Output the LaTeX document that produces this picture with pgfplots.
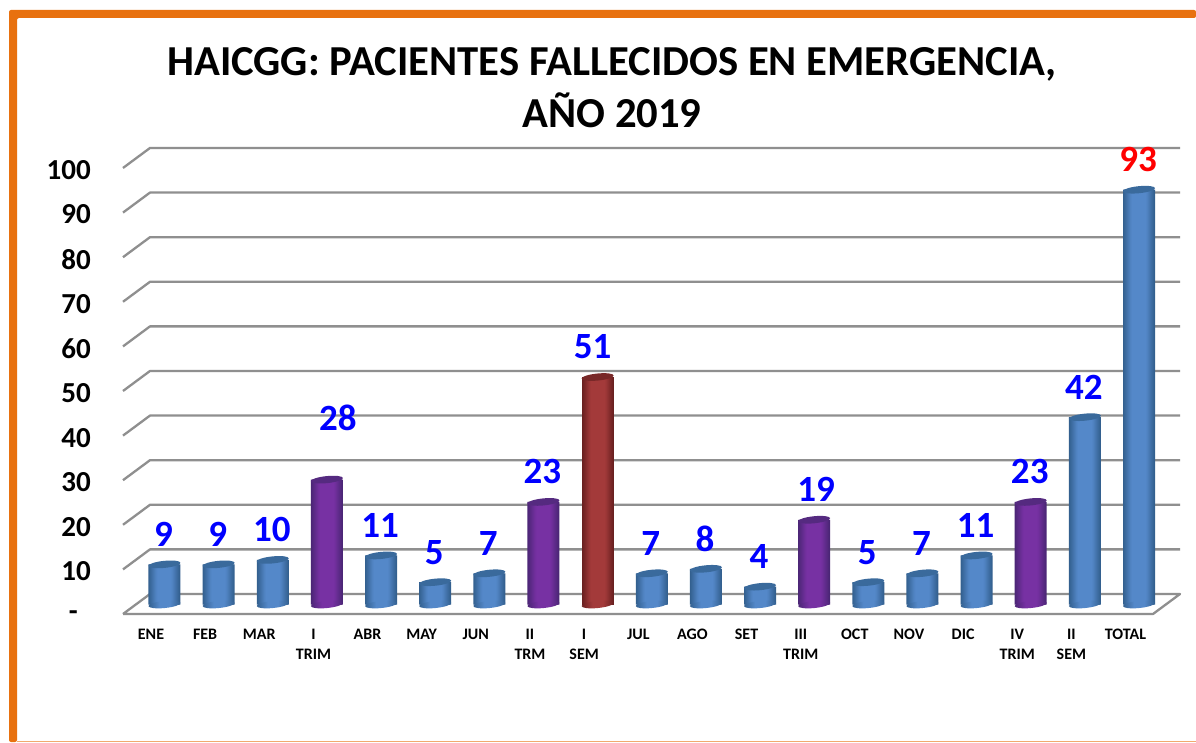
\documentclass[border=0pt]{standalone}
\usepackage{pgfplots}
\pgfplotsset{compat=1.18}
\usepackage{fontspec}
\setmainfont{Carlito}
\definecolor{frameor}{HTML}{E8710F}
\definecolor{gridg}{HTML}{8F8F8F}
\definecolor{bluee}{HTML}{33608F}
\definecolor{bluec}{HTML}{5488C9}
\definecolor{bluet}{HTML}{3A6A9C}
\definecolor{purpe}{HTML}{4B2676}
\definecolor{purpc}{HTML}{7731A3}
\definecolor{purpt}{HTML}{552A80}
\definecolor{rede}{HTML}{692020}
\definecolor{redc}{HTML}{A33A3A}
\definecolor{redt}{HTML}{782828}
\pgfdeclarehorizontalshading{blueh}{100bp}{color(0bp)=(bluee); color(25bp)=(bluee); color(42bp)=(bluec); color(58bp)=(bluec); color(75bp)=(bluee); color(100bp)=(bluee)}
\pgfdeclarehorizontalshading{purph}{100bp}{color(0bp)=(purpe); color(25bp)=(purpe); color(42bp)=(purpc); color(58bp)=(purpc); color(75bp)=(purpe); color(100bp)=(purpe)}
\pgfdeclarehorizontalshading{redh}{100bp}{color(0bp)=(rede); color(25bp)=(rede); color(42bp)=(redc); color(58bp)=(redc); color(75bp)=(rede); color(100bp)=(rede)}
\newcommand{\ellipsepath}{\pgfpathellipse{\pgfpointorigin}{\pgfpoint{16pt}{1.6pt}}{\pgfpoint{-0.4pt}{3.5pt}}}
\pgfdeclareplotmark{cap}{\ellipsepath\pgfusepathqfill}
\pgfdeclareplotmark{baseblue}{\ellipsepath\pgfshadepath{blueh}{0}\pgfusepath{discard}}
\pgfdeclareplotmark{basepurp}{\ellipsepath\pgfshadepath{purph}{0}\pgfusepath{discard}}
\pgfdeclareplotmark{basered}{\ellipsepath\pgfshadepath{redh}{0}\pgfusepath{discard}}
\pgfplotsset{
  gl/.style={gridg,line width=2.3pt,line join=round,forget plot},
  lay/.style={ybar,bar width=#1pt,bar shift=0pt,draw=none,forget plot},
  capm/.style={only marks,mark=cap,mark options={draw=none,fill=#1}},
  lab/.style={nodes near coords={\pgfmathprintnumber[assume math mode=true]{\pgfplotspointmeta}},nodes near coords style={anchor=center,yshift=30pt,xshift=-1pt,inner sep=0pt,font=\fontsize{37}{38}\selectfont\bfseries,text=blue}},
}
% one bar series: layers of narrowing ybars, from the edge colour to the centre colour
\newcommand{\cyl}[3]{%
  \addplot[lay=32,fill=#1] coordinates {#3};
  \addplot[lay=30,fill={#2!12!#1}] coordinates {#3};
  \addplot[lay=28,fill={#2!24!#1}] coordinates {#3};
  \addplot[lay=26,fill={#2!36!#1}] coordinates {#3};
  \addplot[lay=24,fill={#2!48!#1}] coordinates {#3};
  \addplot[lay=22,fill={#2!60!#1}] coordinates {#3};
  \addplot[lay=20,fill={#2!72!#1}] coordinates {#3};
  \addplot[lay=18,fill={#2!84!#1}] coordinates {#3};
  \addplot[lay=16,fill={#2!93!#1}] coordinates {#3};
  \addplot[lay=14,fill=#2] coordinates {#3};
}
\begin{document}
\begin{tikzpicture}[x=1pt,y=1pt]
\useasboundingbox (0,0) rectangle (1196,742);
\fill[white] (0,0) rectangle (1196,742);
\fill[frameor,rounded corners=2pt] (9,0) -- (9,732) -- (1196,732) -- (1196,724) -- (17,724) -- (17,0) -- cycle;
\fill[frameor!60!white] (17,0) rectangle (1196,1.2);
\begin{axis}[
  at={(123pt,128pt)},anchor=south west,
  scale only axis,width=1030pt,height=466pt,
  xmin=-0.7665,xmax=18.258,ymin=-2.13,ymax=102.35,
  clip=false,
  axis line style={draw=none},
  major tick length=0pt,
  tick style={draw=none},
  xtick={0,...,18},
  xticklabels={ENE,FEB,MAR,{I\\TRIM},ABR,MAY,JUN,{II\\TRM},{I\\SEM},JUL,AGO,SET,{III\\TRIM},OCT,NOV,DIC,{IV\\TRIM},{II\\SEM},TOTAL},
  xticklabel style={align=center,inner sep=0pt,anchor=north,xshift=-13.5pt,yshift=-15pt,font=\fontsize{16}{20}\selectfont\bfseries},
  ytick={0,10,...,100},
  yticklabels={{-\hspace*{13pt}},10,20,30,40,50,60,70,80,90,100},
  yticklabel style={anchor=east,inner sep=0pt,xshift=-32pt,yshift=-11.5pt,font=\fontsize{29}{30}\selectfont\bfseries},
  title={HAICGG: PACIENTES FALLECIDOS EN EMERGENCIA,\\AÑO 2019},
  title style={at={(axis description cs:0.4748,1)},anchor=south,align=center,yshift=14pt,inner sep=0pt,font=\fontsize{42.7}{52}\selectfont\bfseries},
]
% walls and floor
\addplot[gl] coordinates {(-0.7665,-2.13) (18.258,-2.13) (18.757,2.354) (-0.268,2.354) (-0.7665,-2.13)};
\addplot[gl] coordinates {(-0.7665,7.87) (-0.268,12.354) (18.757,12.354)};
\addplot[gl] coordinates {(-0.7665,17.87) (-0.268,22.354) (18.757,22.354)};
\addplot[gl] coordinates {(-0.7665,27.87) (-0.268,32.354) (18.757,32.354)};
\addplot[gl] coordinates {(-0.7665,37.87) (-0.268,42.354) (18.757,42.354)};
\addplot[gl] coordinates {(-0.7665,47.87) (-0.268,52.354) (18.757,52.354)};
\addplot[gl] coordinates {(-0.7665,57.87) (-0.268,62.354) (18.757,62.354)};
\addplot[gl] coordinates {(-0.7665,67.87) (-0.268,72.354) (18.757,72.354)};
\addplot[gl] coordinates {(-0.7665,77.87) (-0.268,82.354) (18.757,82.354)};
\addplot[gl] coordinates {(-0.7665,87.87) (-0.268,92.354) (18.757,92.354)};
\addplot[gl] coordinates {(-0.7665,97.87) (-0.268,102.354) (18.757,102.354)};
% bases
\addplot[only marks,mark=baseblue] coordinates {(0,0)(1,0)(2,0)(4,0)(5,0)(6,0)(9,0)(10,0)(11,0)(13,0)(14,0)(15,0)(17,0)(18,0)};
\addplot[only marks,mark=basepurp] coordinates {(3,0)(7,0)(12,0)(16,0)};
\addplot[only marks,mark=basered] coordinates {(8,0)};
% bars
\cyl{bluee}{bluec}{(0,9)(1,9)(2,10)(4,11)(5,5)(6,7)(9,7)(10,8)(11,4)(13,5)(14,7)(15,11)(17,42)(18,93)}
\cyl{purpe}{purpc}{(3,28)(7,23)(12,19)(16,23)}
\cyl{rede}{redc}{(8,51)}
% tops and value labels
\addplot[capm=bluet,lab] coordinates {(0,9)(1,9)(2,10)(4,11)(5,5)(6,7)(9,7)(10,8)(11,4)(13,5)(14,7)(15,11)(17,42)};
\addplot[capm=bluet,lab,nodes near coords style={text=red}] coordinates {(18,93)};
\addplot[capm=purpt,lab] coordinates {(7,23)(16,23)};
\addplot[capm=purpt,lab,nodes near coords style={xshift=3pt}] coordinates {(12,19)};
\addplot[capm=purpt,lab,nodes near coords style={yshift=32pt,xshift=12pt}] coordinates {(3,28)};
\addplot[capm=redt,lab,nodes near coords style={xshift=-4pt}] coordinates {(8,51)};
\end{axis}
\end{tikzpicture}
\end{document}
